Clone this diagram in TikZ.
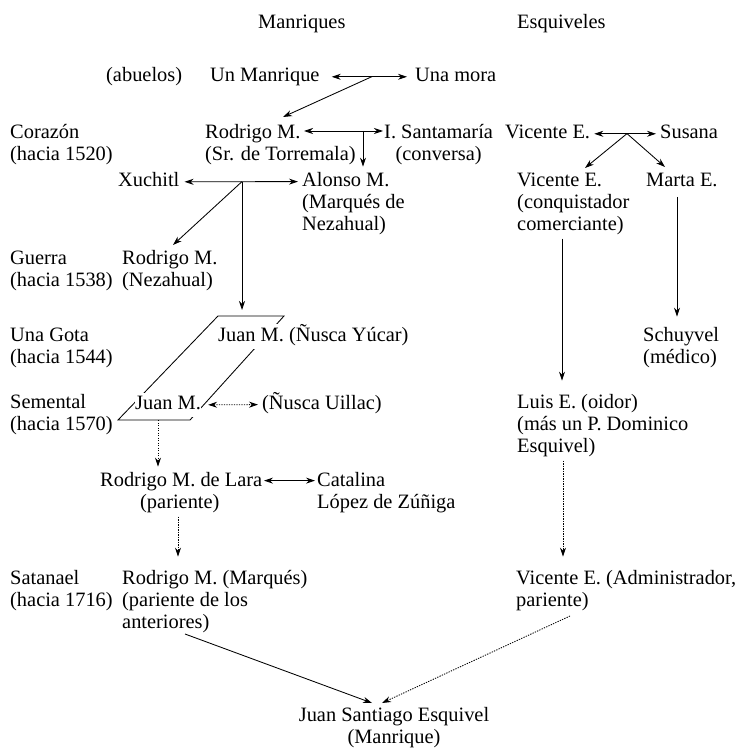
\documentclass[tikz,border=0pt]{standalone}
\usepackage{fontspec}
\setmainfont{Liberation Serif}
\usetikzlibrary{arrows.meta,calc}
\newcommand\fsz{\fontsize{20.4}{22}\selectfont}
\newcommand\mys{\rule[-6.6pt]{0pt}{22pt}}
\tikzset{
 lab/.style={anchor=north west, inner sep=0pt, align=left, font=\fsz},
 con/.style={line width=0.85pt, draw=black},
 arr/.style={con, -{Stealth[length=9pt,width=6pt]}},
 dbl/.style={con, {Stealth[length=9pt,width=6pt]}-{Stealth[length=9pt,width=6pt]}},
 dot/.style={dash pattern=on 1.3pt off 1.2pt},
}
\begin{document}
\begin{tikzpicture}[x=1pt,y=-1pt]
\useasboundingbox (0,0) rectangle (737,751);
\fill[white] (0,0) rectangle (737,751);
% parallelogram
\draw[con] (218,316) -- (284,316) -- (190,420) -- (118,420) -- cycle;
% nodes
\node[lab] (hm) at (258,12.6) {\mys Manriques};
\node[lab] (he) at (517,12.6) {\mys Esquiveles};
\node[lab] (ab) at (106,65.6) {\mys (abuelos)};
\node[lab] (um) at (210,65.6) {\mys Un Manrique};
\node[lab] (mora) at (415,65.6) {\mys Una mora};
\node[lab] (cor) at (10,122.6) {\mys Corazón\\(hacia 1520)};
\node[lab] (rod1) at (205,122.6) {\mys Rodrigo M.\\(Sr. de Torremala)};
\node[lab, align=center] (sant) at (384,122.6) {\mys I. Santamaría\\(conversa)};
\node[lab] (vic1) at (505,122.6) {\mys Vicente E.};
\node[lab] (sus) at (660,122.6) {\mys Susana};
\node[lab] (xu) at (118,170.6) {\mys Xuchitl};
\node[lab] (alo) at (302,170.6) {\mys Alonso M.\\(Marqués de\\Nezahual)};
\node[lab] (vic2) at (517,170.6) {\mys Vicente E.\\(conquistador\\comerciante)};
\node[lab] (mar) at (646,170.6) {\mys Marta E.};
\node[lab] (gue) at (10,248.6) {\mys Guerra\\(hacia 1538)};
\node[lab] (rod2) at (122,248.6) {\mys Rodrigo M.\\(Nezahual)};
\node[lab] (got) at (10,325.6) {\mys Una Gota\\(hacia 1544)};
\node[lab, fill=white, inner ysep=1pt] (jm1) at (218,323.6) {\mys Juan M. (Ñusca Yúcar)};
\node[lab] (sch) at (643,325.6) {\mys Schuyvel\\(médico)};
\node[lab] (sem) at (10,392.6) {\mys Semental\\(hacia 1570)};
\node[lab, fill=white, inner ysep=1pt] (jm2) at (135,392.6) {\mys Juan M.};
\node[lab] (nu) at (262,392.6) {\mys (Ñusca Uillac)};
\node[lab] (lu) at (517,392.6) {\mys Luis E. (oidor)\\(más un P. Dominico\\Esquivel)};
\node[lab] (lar) at (100,470.6) {\mys Rodrigo M. de Lara\\\hspace*{40pt}(pariente)};
\node[lab] (cat) at (317,470.6) {\mys Catalina\\López de Zúñiga};
\node[lab] (sat) at (10,568.6) {\mys Satanael\\(hacia 1716)};
\node[lab] (rod3) at (122,568.6) {\mys Rodrigo M. (Marqués)\\(pariente de los\\anteriores)};
\node[lab] (vic3) at (516,568.6) {\mys Vicente E. (Administrador,\\pariente)};
\node[lab, anchor=north, align=center] (js) at (394,705.5) {\mys Juan Santiago Esquivel\\(Manrique)};
% junction coordinates
\coordinate (j1) at (372,76.6);
\coordinate (t1) at (283,117);
\coordinate (j2) at (363,131);
\coordinate (j3) at (627,133.6);
\coordinate (t3a) at (585,168);
\coordinate (t3b) at (665,167);
\coordinate (j4) at (242,181.6);
\coordinate (t4a) at (173,245);
\coordinate (t4b) at (242,310);
\coordinate (p1) at (158,420);
\coordinate (s1) at (185,634);
\coordinate (s2) at (570,616);
\coordinate (e1) at (372,703);
\coordinate (e2) at (382,703);
% connectors
\draw[dbl] ($(um.east)+(12,0)$) -- ($(mora.west)+(-8,0)$);
\draw[arr] (j1) -- (t1);
\draw[dbl] ($(rod1.north west)+(99,8.4)$) -- ($(sant.north west)+(-1,8.4)$);
\draw[arr] (j2) -- ($(alo.north west)+(61,-4)$);
\draw[dbl] ($(vic1.east)+(4,0)$) -- ($(sus.west)+(-4,0)$);
\draw[arr] (j3) -- (t3a);
\draw[arr] (j3) -- (t3b);
\draw[dbl] ($(xu.east)+(5,0)$) -- ($(alo.north west)+(-4,11)$);
\draw[arr] (j4) -- (t4a);
\draw[arr] (j4) -- (t4b);
\draw[arr] ($(vic2.south west)+(45,4)$) -- ($(lu.north west)+(45,-12)$);
\draw[arr] ($(mar.south west)+(31,4)$) -- ($(sch.north west)+(34,-9)$);
\draw[dbl,dot] ($(jm2.east)+(7,0)$) -- ($(nu.west)+(-4,0)$);
\draw[arr,dot] (p1) -- ($(lar.north west)+(58,-4)$);
\draw[dbl] ($(lar.north west)+(164,10)$) -- ($(cat.north west)+(-2,10)$);
\draw[arr,dot] ($(lar.south west)+(78,4)$) -- ($(rod3.north west)+(56,-12)$);
\draw[arr,dot] ($(lu.south west)+(46,4)$) -- ($(vic3.north west)+(47,-12)$);
\draw[arr] (s1) -- (e1);
\draw[arr,dot] (s2) -- (e2);
\end{tikzpicture}
\end{document}
